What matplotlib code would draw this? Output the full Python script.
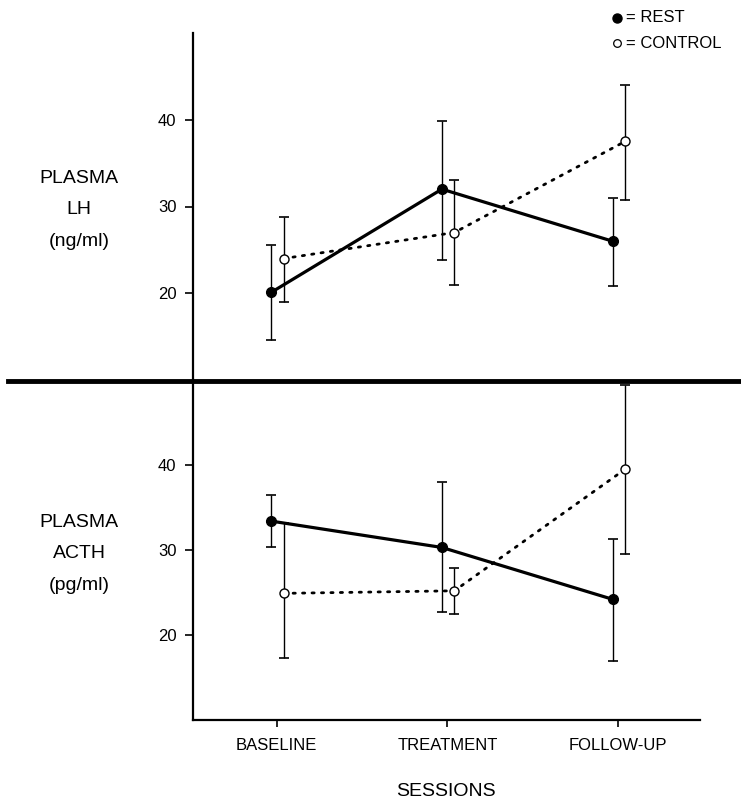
import matplotlib
matplotlib.use("Agg")
from matplotlib import pyplot as plt
from matplotlib.lines import Line2D
import numpy as np

plt.rcParams['font.family'] = ['Liberation Sans', 'DejaVu Sans']

sessions = ["BASELINE", "TREATMENT", "FOLLOW-UP"]

# plasma LH (ng/ml)
lh_rest = [20.1, 32.0, 26.0]
lh_rest_hi = [25.6, 39.9, 31.0]
lh_rest_lo = [14.6, 23.8, 20.8]
lh_ctrl = [24.0, 27.0, 37.5]
lh_ctrl_hi = [28.8, 33.0, 44.0]
lh_ctrl_lo = [19.0, 21.0, 30.7]

# plasma ACTH (pg/ml)
acth_rest = [33.4, 30.3, 24.2]
acth_rest_hi = [36.5, 38.0, 31.3]
acth_rest_lo = [30.4, 22.7, 16.9]
acth_ctrl = [24.9, 25.2, 39.5]
acth_ctrl_hi = [33.2, 27.9, 49.4]
acth_ctrl_lo = [17.3, 22.5, 29.5]

W, H = 741, 799
fig = plt.figure(figsize=(W / 100, H / 100), dpi=100)

left, right = 193 / W, 700 / W
ax1 = fig.add_axes([left, 1 - 380 / H, right - left, (380 - 33) / H])
ax2 = fig.add_axes([left, 1 - 720 / H, right - left, (720 - 380) / H])

x = np.arange(len(sessions))
off_rest, off_ctrl = -0.032, 0.041


def draw(ax, rest, rest_hi, rest_lo, ctrl, ctrl_hi, ctrl_lo):
    xr = x + off_rest
    xc = x + off_ctrl
    rest = np.array(rest)
    ctrl = np.array(ctrl)
    ax.errorbar(xr, rest, yerr=[rest - np.array(rest_lo), np.array(rest_hi) - rest],
                fmt='none', ecolor='black', elinewidth=1.0, capsize=3.5, capthick=1.2, zorder=2)
    ax.errorbar(xc, ctrl, yerr=[ctrl - np.array(ctrl_lo), np.array(ctrl_hi) - ctrl],
                fmt='none', ecolor='black', elinewidth=1.0, capsize=3.5, capthick=1.2, zorder=2)
    ax.plot(xr, rest, color='black', lw=2.3, solid_capstyle='round', zorder=3)
    ax.plot(xc, ctrl, color='black', lw=2.0, linestyle=(0, (0.8, 2.6)),
            dash_capstyle='round', zorder=3)
    ax.plot(xr, rest, 'o', color='black', markersize=7, zorder=4)
    ax.plot(xc, ctrl, 'o', markerfacecolor='white', markeredgecolor='black',
            markeredgewidth=1.0, markersize=6.5, zorder=4)
    ax.set_xlim(-0.49, 2.48)
    ax.set_ylim(10, 50)
    ax.set_yticks([20, 30, 40])
    ax.tick_params(axis='y', direction='out', length=6, width=1.2, labelsize=12, pad=6)
    for s in ['top', 'right']:
        ax.spines[s].set_visible(False)
    ax.spines['left'].set_linewidth(1.6)
    ax.patch.set_alpha(0)


draw(ax1, lh_rest, lh_rest_hi, lh_rest_lo, lh_ctrl, lh_ctrl_hi, lh_ctrl_lo)
draw(ax2, acth_rest, acth_rest_hi, acth_rest_lo, acth_ctrl, acth_ctrl_hi, acth_ctrl_lo)

ax1.spines['bottom'].set_visible(False)
ax1.set_xticks([])

ax2.spines['bottom'].set_linewidth(1.6)
ax2.set_xticks(x)
ax2.set_xticklabels(sessions)
ax2.tick_params(axis='x', direction='out', length=5, width=1.2, labelsize=12, pad=8)

fig.text(446 / W, 1 - 791 / H, "SESSIONS", ha='center', va='center', fontsize=14)

# thick separator between the panels
fig.add_artist(Line2D([8 / W, 1.0], [1 - 380.5 / H, 1 - 380.5 / H],
                      transform=fig.transFigure, color='black', lw=3.5))

# y labels
fig.text(79 / W, 1 - 210 / H, "PLASMA\nLH\n(ng/ml)", ha='center', va='center',
         fontsize=14, linespacing=2.1)
fig.text(79 / W, 1 - 554 / H, "PLASMA\nACTH\n(pg/ml)", ha='center', va='center',
         fontsize=14, linespacing=2.1)

# key
fig.add_artist(Line2D([617 / W], [1 - 18 / H], transform=fig.transFigure, marker='o',
                      color='black', markersize=6.5))
fig.text(626 / W, 1 - 18 / H, "= REST", ha='left', va='center', fontsize=12)
fig.add_artist(Line2D([617 / W], [1 - 43 / H], transform=fig.transFigure, marker='o',
                      markerfacecolor='white', markeredgecolor='black', markeredgewidth=0.9,
                      markersize=5.5))
fig.text(626 / W, 1 - 43 / H, "= CONTROL", ha='left', va='center', fontsize=12)

fig.savefig("out.png", dpi=100)
